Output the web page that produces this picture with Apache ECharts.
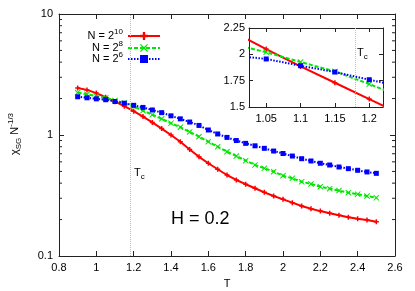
<!DOCTYPE html>
<html><head><meta charset="utf-8">
<script src="https://cdn.jsdelivr.net/npm/echarts@6/dist/echarts.min.js"></script>
<style>html,body{margin:0;padding:0;background:#fff}#c{width:415px;height:291px}</style>
</head><body><div id="c"></div>
<script>
const T = [0.9,0.95,1.0,1.05,1.1,1.15,1.2,1.25,1.3,1.35,1.4,1.45,1.5,1.55,1.6,1.65,1.7,1.75,1.8,1.85,1.9,1.95,2.0,2.05,2.1,2.15,2.2,2.25,2.3,2.35,2.4,2.45,2.5];
const chiN1024 = [2.45,2.36,2.22,2.05,1.885,1.73,1.575,1.42,1.27,1.13,1.0,0.88,0.76,0.66,0.584,0.521,0.467,0.425,0.392,0.363,0.336,0.313,0.294,0.276,0.259,0.246,0.235,0.226,0.217,0.209,0.203,0.198,0.192];
const chiN256 = [2.24,2.17,2.1,2.02,1.927,1.838,1.718,1.59,1.47,1.36,1.25,1.16,1.06,0.968,0.88,0.80,0.728,0.67,0.614,0.565,0.531,0.498,0.461,0.439,0.411,0.394,0.374,0.36,0.347,0.334,0.324,0.313,0.303];
const chiN64 = [2.07,2.03,1.99,1.956,1.892,1.832,1.759,1.69,1.61,1.53,1.44,1.36,1.28,1.20,1.10,1.02,0.955,0.90,0.853,0.814,0.776,0.737,0.703,0.670,0.637,0.610,0.584,0.565,0.544,0.527,0.511,0.495,0.482];
const seriesNames = ['N = 2^10','N = 2^8','N = 2^6'];
const Tc = 1.18;
const yMinorTicks = [0.2,0.3,0.4,0.5,0.6,0.7,0.8,0.9,2,3,4,5,6,7,8,9];

const FONT = 'Liberation Sans, Arial, sans-serif';
const colors = ['#ff0000','#00e600','#0000ff'];
const plusPath = 'path://M3.5,0H6.5V3.5H10V6.5H6.5V10H3.5V6.5H0V3.5H3.5Z';
const crossPath = 'path://M1,0L5,3.6L9,0L10,1L6.4,5L10,9L9,10L5,6.4L1,10L0,9L3.6,5L0,1Z';
const symbols = [plusPath, crossPath, 'rect'];
const symSizes = [5, 6, 5];
const lineTypes = ['solid', [4,2], [1.5,1.5]];
const lineWidths = [2, 2, 2];
const dataSets = [chiN1024, chiN256, chiN64];

function pairs(arr){ return T.map((t,i)=>[t, arr[i]]); }

const axisLine = {show:true, lineStyle:{color:'#222', width:1}};
const series = [];
dataSets.forEach((d, k) => {
  [0, 1].forEach(g => {
    const s = {
      name: seriesNames[k], type: 'line', xAxisIndex: g*2, yAxisIndex: g*2,
      data: pairs(d), symbol: symbols[k], symbolSize: symSizes[k], showSymbol: true, showAllSymbol: true,
      clip: true, animation: false, z: 3 + k,
      lineStyle: {color: colors[k], width: lineWidths[k], type: lineTypes[k]},
      itemStyle: {color: colors[k]}
    };
    if (k === 0) {
      s.markLine = {silent:true, symbol:'none', label:{show:false}, animation:false,
        lineStyle:{type:'dotted', color:'#bbb', width:1}, data:[{xAxis: Tc}]};
    }
    series.push(s);
  });
});
series.push({
  type: 'custom', xAxisIndex: 0, yAxisIndex: 0, silent: true, animation:false,
  data: yMinorTicks.map(v => [0.8, v]),
  renderItem: function(params, api){
    const v = api.value(1);
    const pL = api.coord([0.8, v]);
    const pR = api.coord([2.6, v]);
    return {type:'group', children:[
      {type:'line', shape:{x1:pL[0], y1:pL[1], x2:pL[0]+3, y2:pL[1]}, style:{stroke:'#222', lineWidth:1}},
      {type:'line', shape:{x1:pR[0]-3, y1:pR[1], x2:pR[0], y2:pR[1]}, style:{stroke:'#222', lineWidth:1}}
    ]};
  }
});

const legendRich = {a:{fontSize:11, fontFamily:FONT, color:'#000', lineHeight:16, verticalAlign:'middle'}, s:{fontSize:8, fontFamily:FONT, color:'#000', lineHeight:16, verticalAlign:'top'}};
const legendTops = [23, 35, 46];
const legends = seriesNames.map((n, k) => ({
  data: [n], right: 249, top: legendTops[k], orient:'vertical', align:'right',
  itemWidth: 32, itemHeight: 10, itemGap: 0, selectedMode:false,
  formatter: function(name){ const p = name.split('^'); return '{a|' + p[0] + '}{s|' + p[1] + '}'; },
  textStyle: {rich: legendRich}
}));

const labelStyle = {color:'#000', fontSize:11, fontFamily:FONT};
const option = {
  backgroundColor: '#fff',
  animation: false,
  grid: [
    {left:59, top:14, width:336, height:242, show:false},
    {left:249, top:28, width:134, height:79, show:true, backgroundColor:'#fff', borderWidth:0}
  ],
  legend: legends,
  xAxis: [
    {type:'value', gridIndex:0, min:0.8, max:2.6, interval:0.2, position:'bottom', axisLine,
      axisTick:{show:true, inside:true, length:5, lineStyle:{color:'#222'}}, splitLine:{show:false},
      axisLabel:{...labelStyle, margin:6, formatter: v => String(Math.round(v*10)/10)}},
    {type:'value', gridIndex:0, min:0.8, max:2.6, interval:0.2, position:'top', axisLine,
      axisTick:{show:true, inside:true, length:5, lineStyle:{color:'#222'}}, splitLine:{show:false}, axisLabel:{show:false}},
    {type:'value', gridIndex:1, min:1.025, max:1.22, splitNumber:4, position:'bottom', axisLine,
      axisTick:{show:true, inside:true, length:4, lineStyle:{color:'#222'}}, splitLine:{show:false},
      axisLabel:{...labelStyle, margin:6, showMinLabel:false, showMaxLabel:false, formatter: v => String(Math.round(v*100)/100)}},
    {type:'value', gridIndex:1, min:1.025, max:1.22, splitNumber:4, position:'top', axisLine,
      axisTick:{show:true, inside:true, length:4, lineStyle:{color:'#222'}}, splitLine:{show:false}, axisLabel:{show:false}}
  ],
  yAxis: [
    {type:'log', logBase:10, gridIndex:0, min:0.1, max:10, position:'left', axisLine,
      axisTick:{show:true, inside:true, length:5, lineStyle:{color:'#222'}}, splitLine:{show:false}, minorTick:{show:false},
      axisLabel:{...labelStyle, margin:6}},
    {type:'log', logBase:10, gridIndex:0, min:0.1, max:10, position:'right', axisLine,
      axisTick:{show:true, inside:true, length:5, lineStyle:{color:'#222'}}, splitLine:{show:false}, axisLabel:{show:false}},
    {type:'value', gridIndex:1, min:1.5, max:2.25, interval:0.25, position:'left', axisLine,
      axisTick:{show:true, inside:true, length:4, lineStyle:{color:'#222'}}, splitLine:{show:false},
      axisLabel:{...labelStyle, margin:4}},
    {type:'value', gridIndex:1, min:1.5, max:2.25, interval:0.25, position:'right', axisLine,
      axisTick:{show:true, inside:true, length:4, lineStyle:{color:'#222'}}, splitLine:{show:false}, axisLabel:{show:false}}
  ],
  series: series,
  graphic: [
    {type:'text', x:15, y:134, rotation:Math.PI/2, style:{
      text:'{a|χ}{s|SG}{a| N}{p|-1/3}', align:'center', verticalAlign:'middle',
      rich:{a:{fontSize:11, fontFamily:FONT, fill:'#000', lineHeight:16, verticalAlign:'middle'},
            s:{fontSize:8, fontFamily:FONT, fill:'#000', lineHeight:16, verticalAlign:'bottom'},
            p:{fontSize:8, fontFamily:FONT, fill:'#000', lineHeight:16, verticalAlign:'top'}}}},
    {type:'text', x:227, y:284, style:{text:'T', align:'center', verticalAlign:'middle', fontSize:11, fontFamily:FONT, fill:'#000'}},
    {type:'text', x:134, y:173, style:{text:'{a|T}{s|c}', align:'left', verticalAlign:'middle',
      rich:{a:{fontSize:11, fontFamily:FONT, fill:'#000', lineHeight:16, verticalAlign:'middle'},
            s:{fontSize:8, fontFamily:FONT, fill:'#000', lineHeight:16, verticalAlign:'bottom'}}}},
    {type:'text', x:357, y:53, z:10, style:{text:'{a|T}{s|c}', align:'left', verticalAlign:'middle',
      rich:{a:{fontSize:11, fontFamily:FONT, fill:'#000', lineHeight:16, verticalAlign:'middle'},
            s:{fontSize:8, fontFamily:FONT, fill:'#000', lineHeight:16, verticalAlign:'bottom'}}}},
    {type:'text', x:171, y:219, style:{text:'H = 0.2', align:'left', verticalAlign:'middle', fontSize:18, fontFamily:FONT, fill:'#000'}}
  ]
};
const chart = echarts.init(document.getElementById('c'), null, {renderer:'canvas'});
chart.setOption(option);
</script></body></html>
